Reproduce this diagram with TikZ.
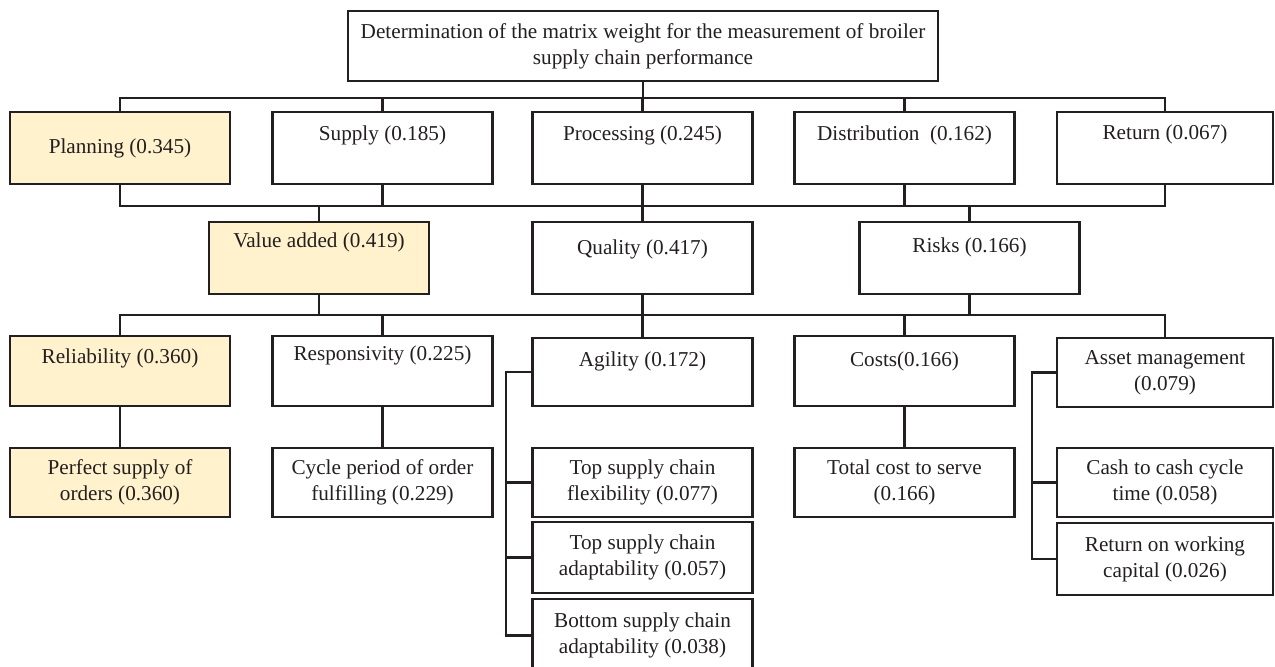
\documentclass[tikz,border=0pt]{standalone}
\usepackage{fontspec}
\setmainfont{Liberation Serif}
\usepackage{xcolor}
\definecolor{lightyellow}{RGB}{255,242,204}
\definecolor{inkgray}{RGB}{35,31,32}
\usepackage{tikz}

\begin{document}
\begin{tikzpicture}[x=0.5pt,y=-0.5pt,
    box/.style={draw=inkgray, line width=1.1pt, minimum width=110pt, minimum height=36pt, inner sep=1pt, align=center, text=inkgray, font=\fontsize{10.6}{13}\selectfont},
    hl/.style={fill=lightyellow},
    edge/.style={minimum width=108pt},
    link/.style={draw=inkgray, line width=1.1pt}]
    \useasboundingbox (0,0) rectangle (1275,666);

    % Goal
    \node[box, minimum width=295pt, minimum height=35pt] (goal) at (643,46) {Determination of the matrix weight for the measurement of broiler\\ supply chain performance};

    % Processes
    \node[box, hl] (plan) at (120,148) {Planning (0.345)};
    \foreach \n/\x/\txt in {supp/382.5/Supply (0.185), proc/642.5/Processing (0.245), dist/904.5/Distribution~ (0.162)} {
        \node[box, text depth=14.5pt] (\n) at (\x,148) {\txt};
    }
    \node[box, edge, text depth=15.5pt] (retn) at (1165,148) {Return (0.067)};

    % Criteria
    \node[box, hl, text depth=17.5pt] (valu) at (319,258) {Value added (0.419)};
    \node[box, text depth=10.5pt] (qual) at (642.5,258) {Quality (0.417)};
    \node[box, text depth=12.5pt] (risk) at (969.5,258) {Risks (0.166)};

    % Attributes
    \node[box, hl, minimum height=35pt, text depth=14.5pt] (reli) at (120,371) {Reliability (0.360)};
    \node[box, minimum height=35pt, text depth=17.5pt] (resp) at (382.5,371) {Responsivity (0.225)};
    \node[box, minimum height=34pt, text depth=12.5pt] (agil) at (642.5,372) {Agility (0.172)};
    \node[box, minimum height=35pt, text depth=11.5pt] (cost) at (904.5,371) {Costs(0.166)};
    \node[box, edge, minimum height=34.5pt] (asst) at (1165,372.5) {Asset management\\(0.079)};

    % Indicators
    \node[box, hl, minimum height=34.5pt] (perf) at (120,482.5) {Perfect supply of\\orders (0.360)};
    \node[box, minimum height=34.5pt] (cycl) at (382.5,482.5) {Cycle period of order\\fulfilling (0.229)};
    \node[box, minimum height=34.5pt] (flex) at (642.5,482.5) {Top supply chain\\flexibility (0.077)};
    \node[box, minimum height=35.5pt] (tadp) at (642.5,557.5) {Top supply chain\\adaptability (0.057)};
    \node[box, minimum height=36.5pt] (badp) at (642.5,635.5) {Bottom supply chain\\adaptability (0.038)};
    \node[box, minimum height=34.5pt] (tcos) at (904.5,482.5) {Total cost to serve\\(0.166)};
    \node[box, edge, minimum height=34.5pt] (cash) at (1165,482.5) {Cash to cash cycle\\time (0.058)};
    \node[box, edge, minimum height=36pt] (rowc) at (1165,559) {Return on working\\capital (0.026)};

    % Bus lines and brackets
    \coordinate (bus1) at (0,98);
    \coordinate (bus2) at (0,206);
    \coordinate (bus3) at (0,315);
    \coordinate (abr) at (506,0);
    \coordinate (sbr) at (1032,0);

    \draw[link] (goal.south) -- (goal.south |- bus1);
    \draw[link] (plan.north) -- (plan.north |- bus1) -- (retn.north |- bus1) -- (retn.north);
    \foreach \n in {supp,proc,dist} {
        \draw[link] (\n.north) -- (\n.north |- bus1);
    }

    \draw[link] (plan.south) -- (plan.south |- bus2) -- (retn.south |- bus2) -- (retn.south);
    \foreach \n in {supp,proc,dist} {
        \draw[link] (\n.south) -- (\n.south |- bus2);
    }
    \foreach \n in {valu,qual,risk} {
        \draw[link] (\n.north) -- (\n.north |- bus2);
        \draw[link] (\n.south) -- (\n.south |- bus3);
    }

    \draw[link] (reli.north) -- (reli.north |- bus3) -- (asst.north |- bus3) -- (asst.north);
    \foreach \n in {resp,agil,cost} {
        \draw[link] (\n.north) -- (\n.north |- bus3);
    }

    \foreach \a/\b in {reli/perf, resp/cycl, cost/tcos} {
        \draw[link] (\a) -- (\b);
    }

    \draw[link] (agil.west) -- (agil.west -| abr) |- (badp.west);
    \draw[link] (flex.west) -- (flex.west -| abr);
    \draw[link] (tadp.west) -- (tadp.west -| abr);
    \draw[link] (asst.west) -- (asst.west -| sbr) |- (rowc.west);
    \draw[link] (cash.west) -- (cash.west -| sbr);
\end{tikzpicture}
\end{document}
